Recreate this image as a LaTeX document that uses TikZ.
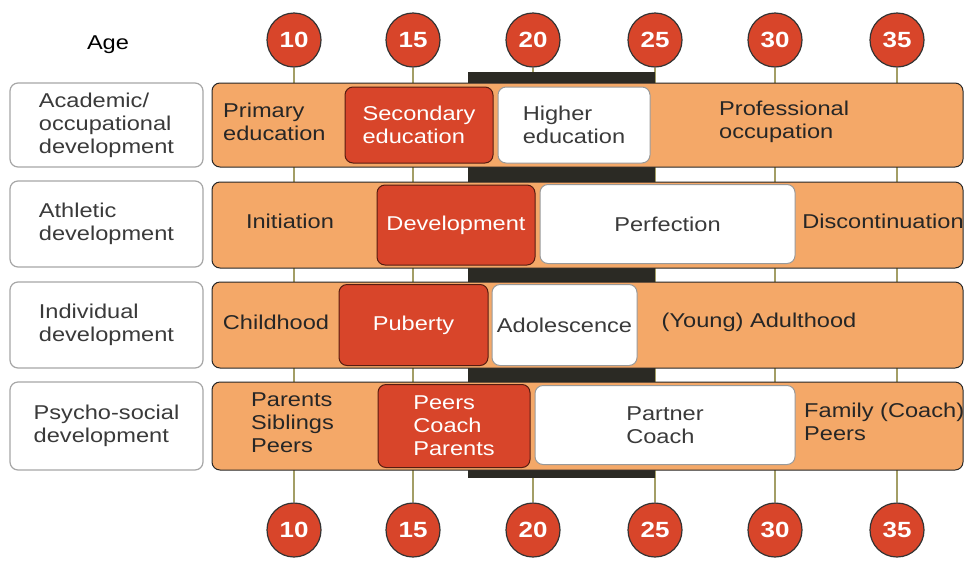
\documentclass[tikz,border=0pt]{standalone}
\usepackage{fontspec}
\setmainfont[FakeStretch=1.18]{Liberation Sans}
\usepackage{tikz}
\usepackage{xcolor}
\definecolor{barorange}{HTML}{F4A868}
\definecolor{stagered}{HTML}{D8452A}
\definecolor{tickolive}{HTML}{A39E66}
\definecolor{bandgray}{HTML}{2B2A24}
\definecolor{textgray}{HTML}{3A3A3A}
\usetikzlibrary{shapes.geometric, arrows}
\tikzstyle{agecircle} = [circle, minimum size=54pt, inner sep=0pt, fill=stagered, draw=black!80, line width=1.2pt, text=white, font=\bfseries\fontsize{22}{22}\selectfont]
\tikzstyle{labelbox} = [rectangle, rounded corners=8pt, minimum width=193pt, draw=gray!70, line width=1.2pt, fill=white, text=textgray, align=left]
\tikzstyle{stagebar} = [rectangle, rounded corners=8pt, minimum width=751pt, fill=barorange, draw=black!85, line width=1pt]
\tikzstyle{redstage} = [rectangle, rounded corners=8pt, fill=stagered, draw=black!60!stagered, line width=1pt, text=white, align=left]
\tikzstyle{whitestage} = [rectangle, rounded corners=8pt, fill=white, draw=gray!80, line width=1pt, text=textgray, align=left]
\tikzstyle{stagetext} = [align=left, text=black!85]
\tikzstyle{tick} = [tickolive, line width=1.5pt]

\begin{document}
\begin{tikzpicture}[x=1pt, y=-1pt, inner sep=1pt, font=\fontsize{20}{23}\selectfont]
			\useasboundingbox (0,0) rectangle (965,560);
			
			\node(age) at (108,45) {Age};
			\node(t10) at (294,40) [agecircle] {10};
			\node(t15) at (413,40) [agecircle] {15};
			\node(t20) at (533,40) [agecircle] {20};
			\node(t25) at (655,40) [agecircle] {25};
			\node(t30) at (775,40) [agecircle] {30};
			\node(t35) at (897,40) [agecircle] {35};
			\node(b10) at (294,530) [agecircle] {10};
			\node(b15) at (413,530) [agecircle] {15};
			\node(b20) at (533,530) [agecircle] {20};
			\node(b25) at (655,530) [agecircle] {25};
			\node(b30) at (775,530) [agecircle] {30};
			\node(b35) at (897,530) [agecircle] {35};
			\begin{scope}[on background layer/.try]
			\draw [tick] (t10) -- (b10);
			\draw [tick] (t15) -- (b15);
			\draw [tick] (t20) -- (b20);
			\draw [tick] (t25) -- (b25);
			\draw [tick] (t30) -- (b30);
			\draw [tick] (t35) -- (b35);
			\end{scope}
			\node(band) at (561.5,275) [rectangle, fill=bandgray, minimum width=187pt, minimum height=406pt, inner sep=0pt] {};
			
			\node(acad) at (587.5,125) [stagebar, minimum height=84pt] {};
			\node(athl) at (587.5,225) [stagebar, minimum height=86pt] {};
			\node(indiv) at (587.5,325) [stagebar, minimum height=86pt] {};
			\node(psych) at (587.5,426) [stagebar, minimum height=88pt] {};
			
			\node(lacad) at (106.5,125) [labelbox, minimum height=84pt] {Academic/\\occupational\\development};
			\node(lathl) at (106.5,224) [labelbox, minimum height=86pt] {Athletic\\development};
			\node(lindiv) at (106.5,325) [labelbox, minimum height=86pt] {Individual\\development};
			\node(lpsych) at (106.5,426) [labelbox, minimum height=88pt] {Psycho-social\\development};
			
			\node(prim) at (222,122) [stagetext, anchor=west] {Primary\\education};
			\node(second) at (419,125) [redstage, minimum width=148pt, minimum height=76pt] {Secondary\\education};
			\node(higher) at (574,125) [whitestage, minimum width=152pt, minimum height=76pt] {Higher\\education};
			\node(prof) at (718,122) [stagetext, anchor=west] {Professional\\occupation};
			
			\node(init) at (290,221) [stagetext] {Initiation};
			\node(devel) at (456,225) [redstage, minimum width=158pt, minimum height=80pt] {Development};
			\node(perf) at (667.5,224) [whitestage, minimum width=255pt, minimum height=79pt] {Perfection};
			\node(discont) at (883,221) [stagetext] {Discontinuation};
			
			\node(child) at (276,322) [stagetext] {Childhood};
			\node(pub) at (413.5,325) [redstage, minimum width=149pt, minimum height=81pt] {Puberty};
			\node(adol) at (564.5,325) [whitestage, minimum width=145pt, minimum height=81pt] {Adolescence};
			\node(adult) at (759,322) [stagetext] {(Young) Adulthood};
			
			\node(family1) at (250,423) [stagetext, anchor=west] {Parents\\Siblings\\Peers};
			\node(peers) at (454,426) [redstage, minimum width=152pt, minimum height=83pt] {Peers\\Coach\\Parents};
			\node(partner) at (665,425) [whitestage, minimum width=260pt, minimum height=79pt] {Partner\\Coach};
			\node(family2) at (803,422) [stagetext, anchor=west] {Family (Coach)\\Peers};
		\end{tikzpicture}
\end{document}
